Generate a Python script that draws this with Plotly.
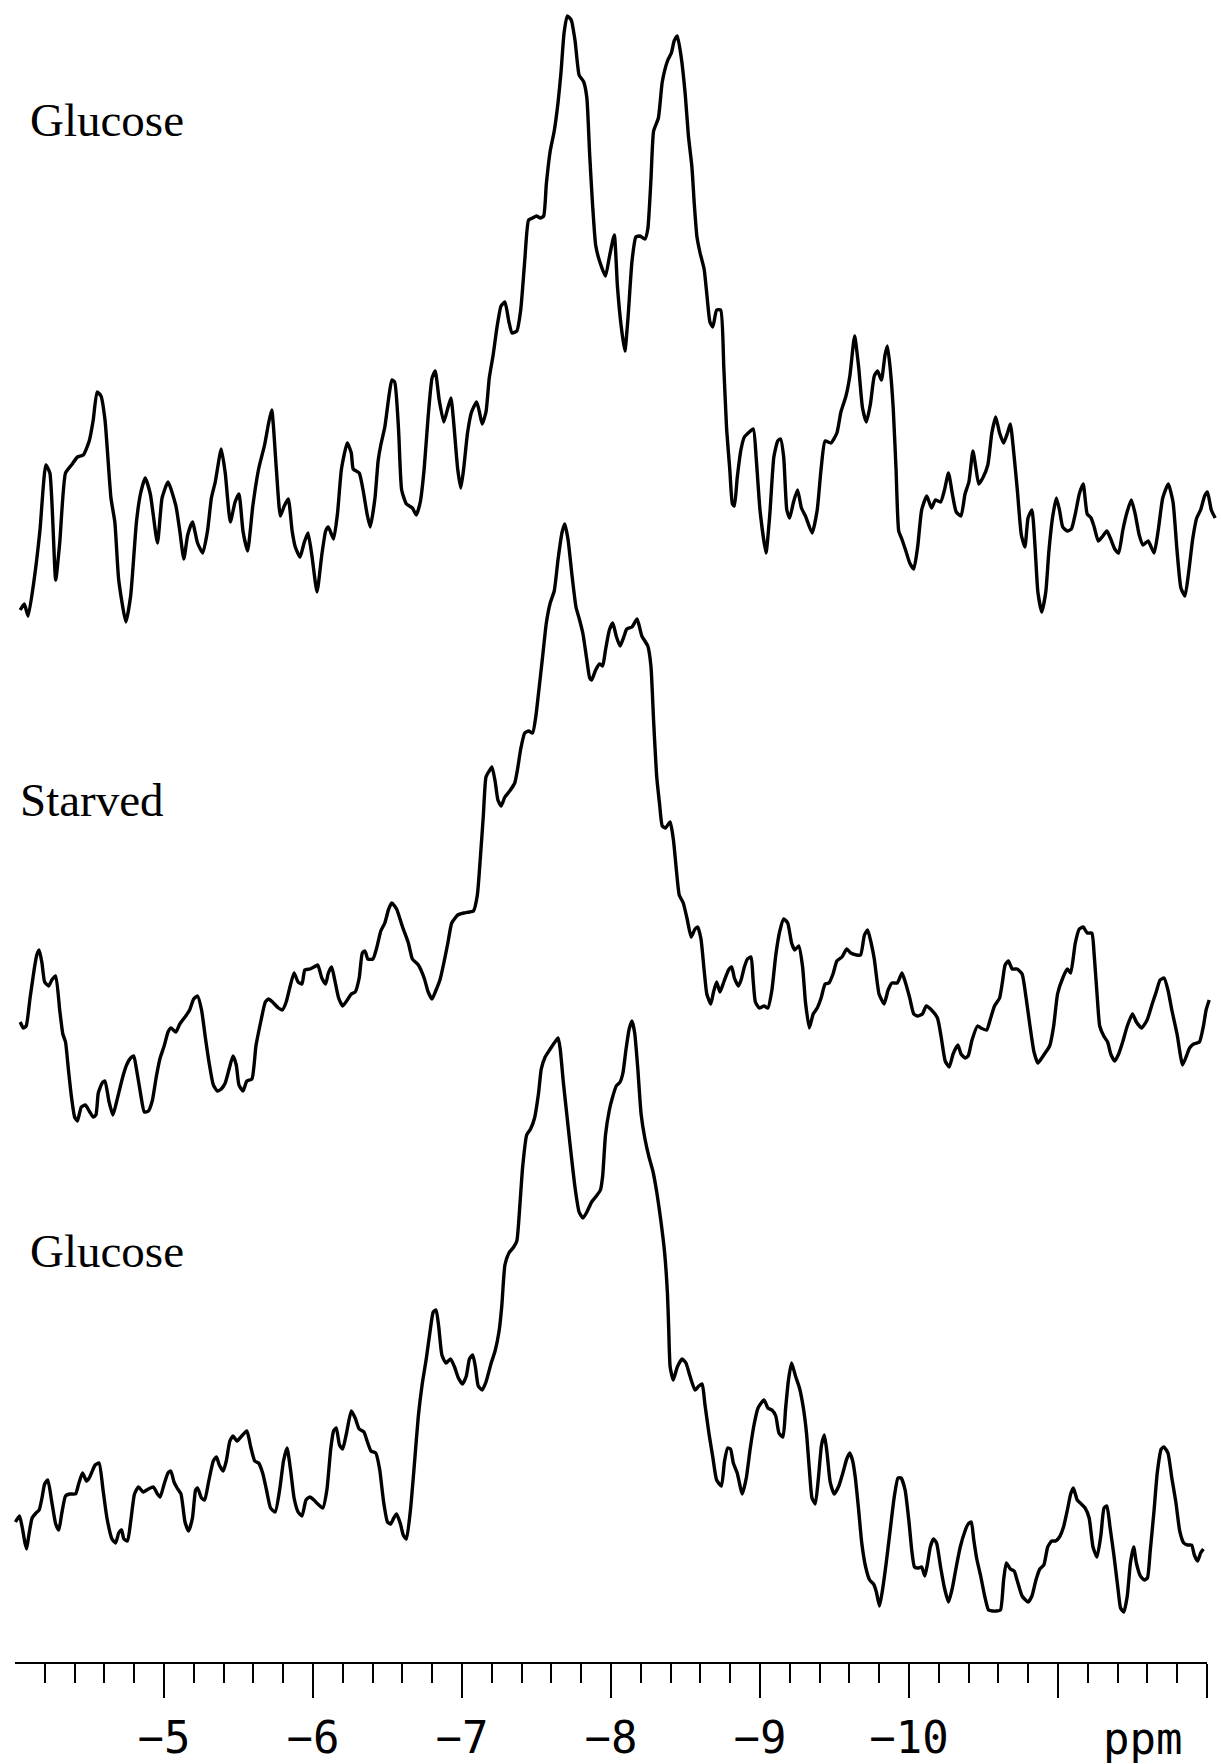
import plotly.graph_objects as go

# ---- data: chemical shift (ppm) and signal height (arbitrary units above each trace's baseline)
glucose_top = [(-4.035,5.0),(-4.062,5.6),(-4.088,4.4),(-4.128,8.0),(-4.167,12.9),(-4.207,19.5),(-4.234,18.7),(-4.273,8.0),(-4.300,11.7),(-4.339,18.7),(-4.379,19.5),(-4.419,20.3),(-4.458,20.5),(-4.498,21.9),(-4.525,24.0),(-4.551,26.8),(-4.577,26.4),(-4.604,24.0),(-4.644,16.2),(-4.670,13.8),(-4.696,8.0),(-4.744,3.8),(-4.776,6.4),(-4.815,13.8),(-4.842,16.6),(-4.874,18.2),(-4.908,16.6),(-4.956,11.7),(-4.987,16.2),(-5.027,17.8),(-5.080,15.4),(-5.106,12.9),(-5.133,10.1),(-5.159,12.5),(-5.191,13.8),(-5.225,11.7),(-5.260,10.7),(-5.292,12.9),(-5.318,16.2),(-5.344,17.8),(-5.384,21.1),(-5.411,18.7),(-5.445,13.8),(-5.477,15.8),(-5.503,16.6),(-5.530,12.9),(-5.561,10.9),(-5.596,15.4),(-5.635,19.1),(-5.675,21.5),(-5.701,23.6),(-5.723,25.0),(-5.754,19.1),(-5.781,14.4),(-5.807,15.4),(-5.834,16.1),(-5.860,12.9),(-5.881,11.3),(-5.913,10.3),(-5.940,11.7),(-5.966,12.7),(-5.992,10.5),(-6.027,6.8),(-6.059,10.5),(-6.085,12.9),(-6.103,13.3),(-6.138,12.1),(-6.164,14.6),(-6.191,19.1),(-6.230,21.7),(-6.257,20.7),(-6.270,19.1),(-6.310,18.7),(-6.336,17.0),(-6.363,14.6),(-6.384,13.3),(-6.416,16.2),(-6.437,19.9),(-6.455,21.5),(-6.482,23.3),(-6.508,26.2),(-6.529,28.0),(-6.548,27.8),(-6.574,23.1),(-6.595,17.0),(-6.627,15.6),(-6.667,15.2),(-6.693,14.5),(-6.720,15.8),(-6.746,19.1),(-6.773,24.4),(-6.799,28.2),(-6.820,28.9),(-6.847,26.0),(-6.878,23.8),(-6.905,25.2),(-6.926,26.2),(-6.945,23.6),(-6.971,19.1),(-6.992,17.2),(-7.011,19.1),(-7.037,22.7),(-7.064,24.8),(-7.098,25.8),(-7.117,24.8),(-7.135,23.6),(-7.161,24.8),(-7.183,28.2),(-7.209,30.5),(-7.235,33.3),(-7.262,35.4),(-7.288,35.8),(-7.315,33.8),(-7.336,32.7),(-7.368,32.9),(-7.394,35.0),(-7.421,39.9),(-7.447,44.0),(-7.474,44.2),(-7.500,44.4),(-7.526,44.2),(-7.548,44.4),(-7.566,47.6),(-7.592,50.9),(-7.619,52.9),(-7.645,55.8),(-7.664,58.7),(-7.685,62.7),(-7.706,64.4),(-7.733,64.0),(-7.759,61.9),(-7.786,58.5),(-7.817,57.8),(-7.838,56.2),(-7.857,50.5),(-7.876,45.6),(-7.897,41.5),(-7.923,39.9),(-7.963,38.4),(-7.989,40.3),(-8.022,42.5),(-8.043,37.4),(-8.069,33.3),(-8.093,30.9),(-8.114,34.2),(-8.141,39.9),(-8.167,42.3),(-8.194,42.4),(-8.228,42.1),(-8.247,43.1),(-8.268,48.0),(-8.286,52.9),(-8.318,54.2),(-8.344,57.8),(-8.379,59.9),(-8.405,60.7),(-8.424,61.9),(-8.445,62.4),(-8.471,60.3),(-8.498,56.6),(-8.519,52.5),(-8.543,49.3),(-8.559,45.6),(-8.577,42.3),(-8.598,40.7),(-8.625,39.1),(-8.643,36.6),(-8.664,33.8),(-8.683,33.3),(-8.709,35.0),(-8.736,35.0),(-8.757,29.3),(-8.776,23.1),(-8.797,19.1),(-8.815,15.6),(-8.828,15.4),(-8.847,18.2),(-8.873,21.1),(-8.895,22.3),(-8.921,22.7),(-8.955,23.1),(-8.974,20.3),(-9.000,15.0),(-9.040,10.7),(-9.066,14.6),(-9.093,20.3),(-9.119,21.9),(-9.138,22.1),(-9.159,20.3),(-9.180,15.0),(-9.199,14.2),(-9.225,15.8),(-9.252,17.0),(-9.278,15.2),(-9.305,14.4),(-9.350,12.7),(-9.384,15.0),(-9.410,19.1),(-9.437,21.9),(-9.476,21.7),(-9.516,22.7),(-9.543,24.8),(-9.577,26.4),(-9.603,28.4),(-9.635,32.4),(-9.662,29.3),(-9.688,25.2),(-9.714,23.8),(-9.741,25.6),(-9.767,28.4),(-9.789,28.9),(-9.815,28.0),(-9.839,30.5),(-9.855,31.4),(-9.873,29.3),(-9.894,25.2),(-9.913,19.1),(-9.931,12.9),(-9.952,12.1),(-9.979,10.9),(-10.005,9.7),(-10.032,9.1),(-10.058,11.3),(-10.085,15.0),(-10.119,16.4),(-10.151,15.2),(-10.177,16.0),(-10.212,15.8),(-10.238,17.0),(-10.265,18.7),(-10.291,16.6),(-10.317,14.8),(-10.349,14.4),(-10.376,16.6),(-10.402,17.8),(-10.429,20.9),(-10.450,19.1),(-10.468,17.6),(-10.495,18.2),(-10.529,19.5),(-10.556,22.7),(-10.582,24.3),(-10.608,22.7),(-10.635,21.7),(-10.661,22.7),(-10.680,23.6),(-10.706,20.3),(-10.727,17.0),(-10.754,12.5),(-10.778,11.3),(-10.799,14.2),(-10.825,15.0),(-10.846,11.3),(-10.865,6.8),(-10.891,4.8),(-10.918,6.8),(-10.939,10.9),(-10.963,14.2),(-10.989,16.2),(-11.010,15.0),(-11.032,13.3),(-11.063,12.9),(-11.090,13.1),(-11.116,14.6),(-11.143,16.6),(-11.169,17.6),(-11.196,14.6),(-11.222,14.2),(-11.243,13.3),(-11.270,11.9),(-11.296,12.3),(-11.328,12.9),(-11.354,12.1),(-11.381,11.1),(-11.407,10.7),(-11.434,12.9),(-11.460,14.6),(-11.492,16.0),(-11.518,14.6),(-11.545,12.5),(-11.571,11.5),(-11.605,11.9),(-11.645,10.7),(-11.672,12.9),(-11.703,16.2),(-11.740,17.6),(-11.772,15.8),(-11.799,10.9),(-11.825,7.2),(-11.852,6.4),(-11.878,8.9),(-11.904,12.1),(-11.931,14.2),(-11.957,15.0),(-11.984,16.4),(-12.003,16.8),(-12.029,15.0),(-12.055,14.2)]

starved = [(-4.035,13.8),(-4.056,13.2),(-4.075,13.4),(-4.101,16.2),(-4.128,19.0),(-4.146,20.5),(-4.162,21.0),(-4.181,19.7),(-4.199,17.8),(-4.226,17.4),(-4.247,18.0),(-4.273,18.4),(-4.300,15.0),(-4.321,12.6),(-4.339,11.8),(-4.358,9.1),(-4.379,6.3),(-4.400,4.3),(-4.419,3.9),(-4.445,5.3),(-4.472,5.5),(-4.498,4.9),(-4.525,4.3),(-4.543,4.5),(-4.559,6.7),(-4.585,7.7),(-4.604,7.9),(-4.630,5.9),(-4.657,4.5),(-4.683,5.9),(-4.723,8.3),(-4.749,9.5),(-4.776,10.2),(-4.797,10.4),(-4.815,9.1),(-4.842,6.7),(-4.868,4.8),(-4.895,4.9),(-4.921,5.9),(-4.948,8.3),(-4.974,10.2),(-5.001,11.4),(-5.027,12.8),(-5.046,13.2),(-5.080,12.8),(-5.106,13.6),(-5.146,14.4),(-5.172,15.0),(-5.199,16.1),(-5.225,16.4),(-5.252,15.0),(-5.278,12.2),(-5.305,9.5),(-5.331,7.5),(-5.358,6.9),(-5.384,7.1),(-5.411,7.7),(-5.437,9.1),(-5.463,10.4),(-5.485,9.5),(-5.503,7.5),(-5.530,6.9),(-5.556,7.9),(-5.590,8.1),(-5.617,11.4),(-5.649,13.8),(-5.680,15.8),(-5.701,16.1),(-5.728,15.8),(-5.768,15.2),(-5.794,15.0),(-5.820,15.8),(-5.847,17.4),(-5.873,18.7),(-5.900,17.8),(-5.926,17.6),(-5.945,19.0),(-5.979,19.1),(-6.006,19.3),(-6.032,19.5),(-6.059,18.2),(-6.085,17.6),(-6.103,18.7),(-6.125,19.3),(-6.146,18.0),(-6.172,16.2),(-6.199,15.4),(-6.230,16.0),(-6.257,16.6),(-6.283,16.8),(-6.310,18.2),(-6.331,20.7),(-6.349,20.9),(-6.368,20.1),(-6.402,20.1),(-6.429,21.3),(-6.455,22.9),(-6.482,23.7),(-6.508,25.1),(-6.529,25.7),(-6.561,25.1),(-6.601,23.3),(-6.640,21.7),(-6.667,20.1),(-6.707,19.5),(-6.746,18.2),(-6.773,16.8),(-6.799,16.1),(-6.826,17.0),(-6.852,18.0),(-6.878,19.7),(-6.905,21.7),(-6.931,23.7),(-6.971,24.5),(-7.011,24.7),(-7.050,24.8),(-7.077,24.9),(-7.103,26.5),(-7.124,30.4),(-7.143,34.4),(-7.161,38.3),(-7.183,38.9),(-7.201,39.3),(-7.222,37.9),(-7.241,36.0),(-7.262,35.4),(-7.288,36.3),(-7.320,36.9),(-7.354,37.7),(-7.373,39.1),(-7.394,41.1),(-7.421,42.7),(-7.447,42.9),(-7.474,42.7),(-7.495,44.3),(-7.513,46.6),(-7.540,50.2),(-7.566,53.7),(-7.592,55.7),(-7.619,56.9),(-7.645,60.1),(-7.672,62.8),(-7.690,63.6),(-7.712,62.0),(-7.738,58.5),(-7.765,55.3),(-7.791,53.9),(-7.812,52.6),(-7.836,50.2),(-7.857,48.2),(-7.870,48.0),(-7.897,49.0),(-7.923,49.6),(-7.944,49.4),(-7.963,51.0),(-7.989,53.0),(-8.012,53.7),(-8.035,52.4),(-8.061,51.4),(-8.088,52.4),(-8.106,53.1),(-8.141,53.3),(-8.175,54.1),(-8.207,52.4),(-8.247,51.4),(-8.268,49.4),(-8.286,43.9),(-8.307,38.3),(-8.326,35.6),(-8.344,33.4),(-8.366,33.2),(-8.397,33.8),(-8.419,32.0),(-8.440,28.8),(-8.458,26.5),(-8.485,25.7),(-8.511,24.1),(-8.538,22.3),(-8.564,23.1),(-8.582,23.3),(-8.604,22.1),(-8.625,19.0),(-8.643,16.6),(-8.670,15.6),(-8.688,16.8),(-8.709,17.8),(-8.731,16.8),(-8.757,17.8),(-8.789,19.0),(-8.810,19.3),(-8.828,18.2),(-8.855,17.4),(-8.873,18.0),(-8.895,19.3),(-8.916,20.1),(-8.940,20.3),(-8.953,18.2),(-8.969,15.8),(-8.995,15.2),(-9.027,15.4),(-9.053,15.2),(-9.080,17.0),(-9.106,20.5),(-9.133,22.9),(-9.159,24.1),(-9.186,23.7),(-9.212,21.7),(-9.233,21.0),(-9.260,21.4),(-9.286,19.3),(-9.305,15.8),(-9.331,13.2),(-9.357,14.6),(-9.384,15.2),(-9.410,16.2),(-9.437,17.6),(-9.463,17.7),(-9.490,18.6),(-9.516,19.9),(-9.550,20.3),(-9.582,21.1),(-9.609,20.7),(-9.648,20.5),(-9.675,20.5),(-9.701,22.5),(-9.722,23.0),(-9.746,21.7),(-9.767,20.1),(-9.799,16.6),(-9.833,15.6),(-9.860,17.0),(-9.886,17.7),(-9.921,17.7),(-9.953,18.7),(-9.979,17.6),(-10.005,16.2),(-10.032,14.6),(-10.058,14.4),(-10.090,14.6),(-10.116,15.4),(-10.151,15.0),(-10.191,14.2),(-10.217,12.2),(-10.243,9.9),(-10.270,9.3),(-10.296,10.6),(-10.328,11.5),(-10.349,10.6),(-10.376,10.2),(-10.397,10.4),(-10.423,12.0),(-10.460,13.4),(-10.482,13.2),(-10.521,13.0),(-10.548,14.2),(-10.574,15.4),(-10.608,16.2),(-10.627,17.8),(-10.645,19.5),(-10.667,19.9),(-10.693,19.1),(-10.725,19.1),(-10.759,18.6),(-10.786,16.2),(-10.812,13.4),(-10.839,10.8),(-10.865,9.7),(-10.891,10.2),(-10.918,10.8),(-10.944,11.4),(-10.971,13.4),(-10.997,16.6),(-11.032,18.2),(-11.063,19.1),(-11.085,18.7),(-11.116,21.7),(-11.143,23.1),(-11.169,23.3),(-11.196,22.7),(-11.227,22.7),(-11.243,20.5),(-11.262,16.6),(-11.280,13.4),(-11.307,12.4),(-11.333,11.8),(-11.354,10.6),(-11.381,9.9),(-11.407,10.6),(-11.434,11.8),(-11.465,13.4),(-11.500,14.6),(-11.526,13.8),(-11.561,13.2),(-11.598,14.0),(-11.632,15.6),(-11.659,16.8),(-11.685,18.0),(-11.712,18.2),(-11.738,17.0),(-11.764,15.0),(-11.799,12.6),(-11.836,9.5),(-11.862,10.4),(-11.883,11.2),(-11.910,11.6),(-11.949,11.8),(-11.976,13.4),(-11.994,15.0),(-12.015,16.0)]

glucose_bottom = [(-4.003,13.8),(-4.030,14.4),(-4.048,13.3),(-4.067,11.7),(-4.078,11.1),(-4.093,12.5),(-4.115,14.2),(-4.141,14.7),(-4.162,15.0),(-4.181,16.2),(-4.199,17.6),(-4.220,18.0),(-4.247,15.8),(-4.273,13.6),(-4.294,13.0),(-4.313,14.6),(-4.339,16.4),(-4.366,16.6),(-4.406,16.6),(-4.427,17.6),(-4.453,18.7),(-4.480,17.9),(-4.498,18.2),(-4.538,19.5),(-4.564,19.7),(-4.591,17.0),(-4.617,14.2),(-4.651,12.1),(-4.675,11.7),(-4.696,12.7),(-4.715,13.0),(-4.731,12.1),(-4.755,11.9),(-4.776,13.8),(-4.802,16.6),(-4.829,17.3),(-4.860,16.8),(-4.895,17.1),(-4.929,17.3),(-4.956,16.6),(-4.974,16.3),(-5.001,17.6),(-5.027,18.7),(-5.046,18.9),(-5.067,17.8),(-5.088,17.2),(-5.114,16.6),(-5.141,13.8),(-5.165,12.9),(-5.191,14.2),(-5.212,17.0),(-5.225,17.2),(-5.252,16.2),(-5.273,16.0),(-5.299,17.8),(-5.331,19.9),(-5.352,20.3),(-5.371,19.5),(-5.397,18.9),(-5.418,19.9),(-5.442,21.9),(-5.463,22.4),(-5.490,21.9),(-5.516,22.3),(-5.556,22.9),(-5.582,21.3),(-5.609,19.9),(-5.635,19.7),(-5.662,18.7),(-5.688,17.0),(-5.715,15.2),(-5.746,14.8),(-5.776,17.0),(-5.802,19.9),(-5.826,21.2),(-5.852,18.7),(-5.873,16.2),(-5.900,14.8),(-5.926,14.4),(-5.953,16.0),(-5.979,16.3),(-6.006,16.0),(-6.032,15.6),(-6.066,15.2),(-6.093,17.0),(-6.119,21.1),(-6.138,22.9),(-6.156,23.2),(-6.178,21.5),(-6.199,21.1),(-6.225,22.7),(-6.257,24.9),(-6.283,24.2),(-6.310,23.1),(-6.342,22.8),(-6.363,21.9),(-6.389,20.9),(-6.421,20.7),(-6.447,19.1),(-6.474,15.8),(-6.500,13.8),(-6.521,13.6),(-6.542,14.2),(-6.561,14.6),(-6.587,13.6),(-6.606,12.5),(-6.627,12.1),(-6.654,15.0),(-6.680,19.5),(-6.707,24.4),(-6.733,27.6),(-6.760,30.1),(-6.786,32.9),(-6.807,34.8),(-6.826,35.0),(-6.844,33.3),(-6.865,30.5),(-6.892,29.7),(-6.923,30.1),(-6.950,29.3),(-6.976,28.2),(-7.003,27.6),(-7.029,28.4),(-7.050,30.1),(-7.072,30.5),(-7.090,29.3),(-7.109,27.4),(-7.135,27.0),(-7.161,27.8),(-7.196,29.7),(-7.222,30.9),(-7.249,32.9),(-7.267,35.4),(-7.288,39.5),(-7.315,40.7),(-7.347,41.3),(-7.368,41.9),(-7.389,45.6),(-7.407,49.3),(-7.434,52.5),(-7.460,53.1),(-7.487,54.2),(-7.513,56.6),(-7.532,59.1),(-7.558,60.3),(-7.592,61.1),(-7.619,61.7),(-7.645,62.2),(-7.659,61.1),(-7.680,57.8),(-7.706,54.2),(-7.733,50.5),(-7.759,47.2),(-7.786,44.8),(-7.812,44.2),(-7.838,44.8),(-7.870,45.8),(-7.902,46.4),(-7.929,47.0),(-7.944,48.4),(-7.963,52.5),(-7.989,55.0),(-8.009,56.2),(-8.035,57.4),(-8.061,57.8),(-8.080,58.7),(-8.101,61.1),(-8.122,63.1),(-8.141,63.9),(-8.159,62.7),(-8.180,59.1),(-8.202,54.6),(-8.228,52.1),(-8.255,50.3),(-8.281,48.9),(-8.307,46.8),(-8.334,44.0),(-8.360,40.7),(-8.379,36.6),(-8.387,33.3),(-8.397,29.3),(-8.418,28.0),(-8.445,29.3),(-8.477,30.1),(-8.503,29.7),(-8.530,28.4),(-8.564,27.0),(-8.590,27.4),(-8.612,27.6),(-8.630,25.6),(-8.657,22.7),(-8.683,20.3),(-8.709,18.0),(-8.741,17.4),(-8.762,19.9),(-8.783,21.2),(-8.802,21.1),(-8.821,19.7),(-8.847,18.7),(-8.881,16.6),(-8.908,18.2),(-8.934,21.1),(-8.961,23.6),(-8.987,25.2),(-9.027,26.0),(-9.053,25.2),(-9.080,25.0),(-9.106,24.4),(-9.127,22.7),(-9.154,22.3),(-9.172,25.2),(-9.191,28.0),(-9.212,29.7),(-9.238,28.4),(-9.265,27.2),(-9.291,25.2),(-9.312,22.7),(-9.331,19.1),(-9.349,16.2),(-9.371,15.6),(-9.392,18.2),(-9.413,21.5),(-9.432,22.5),(-9.450,20.7),(-9.471,17.8),(-9.498,16.6),(-9.529,17.4),(-9.556,18.7),(-9.582,20.1),(-9.603,20.7),(-9.622,19.9),(-9.640,18.2),(-9.662,15.0),(-9.683,11.7),(-9.709,9.3),(-9.736,8.0),(-9.762,7.6),(-9.781,6.8),(-9.802,5.4),(-9.820,6.8),(-9.847,9.7),(-9.873,12.9),(-9.900,16.2),(-9.926,18.2),(-9.947,18.2),(-9.974,17.0),(-10.000,13.8),(-10.019,10.9),(-10.037,9.3),(-10.064,9.2),(-10.085,9.3),(-10.106,8.4),(-10.125,9.7),(-10.143,11.3),(-10.164,12.1),(-10.185,11.7),(-10.212,9.3),(-10.238,7.2),(-10.265,5.8),(-10.291,7.2),(-10.317,9.3),(-10.344,11.3),(-10.376,12.9),(-10.397,13.6),(-10.418,13.8),(-10.434,12.1),(-10.455,10.1),(-10.481,8.4),(-10.508,6.4),(-10.534,5.0),(-10.561,4.9),(-10.587,4.9),(-10.614,5.0),(-10.635,8.0),(-10.653,9.7),(-10.680,9.1),(-10.706,8.9),(-10.725,8.0),(-10.759,6.4),(-10.799,5.8),(-10.825,6.4),(-10.852,8.0),(-10.878,9.1),(-10.905,9.5),(-10.931,11.3),(-10.958,11.9),(-10.984,11.9),(-11.010,12.3),(-11.037,13.3),(-11.063,15.0),(-11.085,16.6),(-11.103,17.2),(-11.129,16.0),(-11.156,15.6),(-11.182,15.2),(-11.209,14.2),(-11.235,11.3),(-11.262,10.3),(-11.288,12.5),(-11.309,15.2),(-11.328,15.4),(-11.349,13.3),(-11.375,10.5),(-11.402,7.2),(-11.420,5.2),(-11.442,4.8),(-11.465,6.4),(-11.486,9.7),(-11.508,11.3),(-11.526,9.7),(-11.553,8.4),(-11.579,8.0),(-11.600,8.2),(-11.619,10.9),(-11.645,15.0),(-11.666,18.7),(-11.693,21.1),(-11.711,21.3),(-11.738,20.7),(-11.764,18.2),(-11.791,15.8),(-11.817,12.9),(-11.844,11.7),(-11.870,11.5),(-11.897,11.5),(-11.915,10.5),(-11.937,9.9),(-11.957,10.7),(-11.976,11.1)]

trace_labels = ["Glucose", "Starved", "Glucose"]
trace_offsets = [100, 50, 0]          # vertical stacking of the three spectra
label_positions = [(-4.09, 154.0), (-4.02, 86.0), (-4.09, 40.9)]

major_ticks = [-5, -6, -7, -8, -9, -10, -11, -12]
major_labels = ["\u22125", "\u22126", "\u22127", "\u22128", "\u22129", "\u221210", "", ""]
minor_ticks = [round(-4.2 - 0.2 * i, 1) for i in range(39) if abs(round(-4.2 - 0.2 * i, 1) - round(-4.2 - 0.2 * i)) > 1e-6]
unit_label = "ppm"

fig = go.Figure()
for pairs, off in zip([glucose_top, starved, glucose_bottom], trace_offsets):
    xs = [p[0] for p in pairs]
    ys = [p[1] + off for p in pairs]
    fig.add_trace(go.Scatter(x=xs, y=ys, mode="lines",
                             line=dict(color="black", width=3.4, shape="spline", smoothing=0.5),
                             hoverinfo="skip", showlegend=False))

annotations = []
for text, (lx, ly) in zip(trace_labels, label_positions):
    annotations.append(dict(x=lx, y=ly, xref="x", yref="y", text=text, showarrow=False,
                            xanchor="left", yanchor="middle",
                            font=dict(family="Liberation Serif", size=47, color="black")))
annotations.append(dict(x=-11.57, y=0.0145, xref="x", yref="paper", text=unit_label, showarrow=False,
                        xanchor="center", yanchor="middle",
                        font=dict(family="DejaVu Sans Mono", size=44, color="black")))

ybottom = 101 / 1764
fig.update_layout(
    template="none",
    width=1221, height=1764,
    margin=dict(l=0, r=0, t=0, b=0),
    paper_bgcolor="white", plot_bgcolor="white",
    showlegend=False,
    xaxis=dict(domain=[0, 1], range=[-3.8993, -12.094], showline=False, showgrid=False, zeroline=False,
               ticks="outside", tickvals=major_ticks, ticktext=major_labels, ticklen=34, tickwidth=2.2,
               tickcolor="black", ticklabelstandoff=2,
               tickfont=dict(family="DejaVu Sans Mono", size=44, color="black"),
               minor=dict(tickvals=minor_ticks, ticks="outside", ticklen=19, tickwidth=2.2,
                          tickcolor="black", showgrid=False),
               automargin=False, fixedrange=True),
    yaxis=dict(domain=[ybottom, 1], range=[-0.3, 166], visible=False, automargin=False, fixedrange=True),
    annotations=annotations,
    shapes=[dict(type="line", xref="x", yref="paper", x0=-4.0, x1=-12.0, y0=ybottom, y1=ybottom,
                 line=dict(color="black", width=2.2))],
)

fig.write_html("out.html")
